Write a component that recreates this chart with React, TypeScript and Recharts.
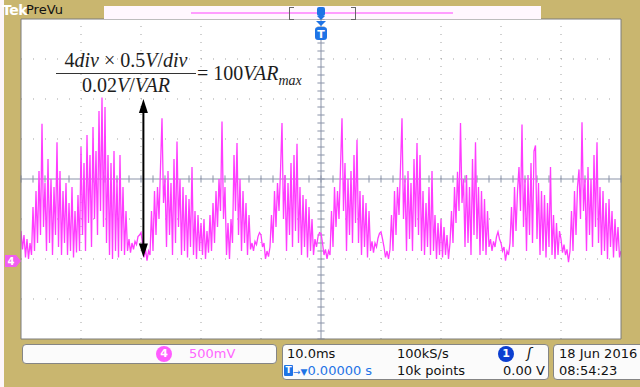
import { LineChart, Line, XAxis, YAxis, ReferenceLine, CartesianGrid } from "recharts";

// channel 4 trace, volts above ground marker, one sample every 0.25 ms
// one row per 10 ms division, read left to right off the screen
const div1 = [0.35, 0.12, 0.3, 0.02, 0.25, 0.0, 0.2, 0.05, 0.65, 0.1, 0.85, 0.2, 1.1, 0.3, 1.69, 0.4, 0.95, 0.1, 1.25, 0.2, 1.0, 0.05, 0.9, 0.3, 1.46, 0.15, 1.1, 0.05, 0.85, 0.2, 0.95, 0.05, 0.7, 0.1, 0.9, 0.02, 0.6, 0.08, 0.8, 0.1];
const div2 = [1.4, 0.3, 1.2, 0.1, 1.55, 0.45, 1.3, 0.15, 1.65, 0.5, 1.35, 0.3, 1.85, 0.6, 2.02, 0.4, 1.9, 0.2, 1.3, 0.05, 1.2, 0.0, 1.35, 0.1, 1.0, 0.02, 1.3, 0.1, 0.9, 0.05, 0.6, 0.1, 0.25, 0.08, 0.2, 0.12, 0.22, 0.18, 0.28, 0.3];
const div3 = [0.33, 0.2, 0.02, 0.12, -0.02, 0.1, 0.05, 0.6, 0.1, 0.85, 0.3, 0.9, 0.5, 1.15, 1.76, 0.7, 1.0, 0.15, 1.1, 0.3, 0.95, 0.05, 1.25, 0.2, 1.47, 0.4, 1.0, 0.05, 0.9, 0.1, 0.8, 0.02, 0.75, 0.15, 1.15, 0.05, 0.6, 0.0, 0.55, 0.1];
const div4 = [0.45, 0.05, 0.5, 0.0, 0.35, 0.08, 0.55, 0.1, 0.7, 0.2, 0.85, 0.4, 1.0, 0.6, 1.72, 0.5, 0.9, 0.05, 0.45, 0.0, 0.5, 0.2, 1.3, 0.6, 1.45, 0.3, 1.0, 0.1, 0.85, 0.2, 0.7, 0.05, 0.55, 0.12, 0.2, 0.1, 0.22, 0.18, 0.28, 0.33];
const div5 = [0.3, 0.15, 0.2, 0.0, 0.1, 0.03, 0.15, 0.55, 0.2, 0.85, 0.4, 0.95, 0.6, 1.1, 1.7, 0.5, 1.05, 0.1, 0.95, 0.3, 1.2, 0.15, 1.3, 0.35, 1.44, 0.2, 0.9, 0.05, 0.8, 0.15, 0.75, 0.02, 0.65, 0.1, 0.5, 0.05, 0.25, 0.15, 0.28, 0.33];
const div6 = [0.32, 0.2, 0.05, 0.12, 0.0, 0.1, 0.05, 0.6, 0.15, 0.9, 0.4, 0.85, 0.5, 1.15, 1.76, 0.6, 1.2, 0.1, 1.0, 0.3, 1.1, 0.2, 1.3, 0.45, 1.49, 0.2, 0.85, 0.05, 0.8, 0.15, 0.7, 0.02, 0.6, 0.1, 0.22, 0.08, 0.2, 0.15, 0.26, 0.32];
const div7 = [0.34, 0.25, 0.15, 0.02, 0.1, 0.0, 0.12, 0.55, 0.1, 0.85, 0.3, 0.9, 0.55, 1.15, 1.76, 0.5, 1.0, 0.1, 1.1, 0.25, 0.95, 0.1, 1.25, 0.4, 1.45, 0.3, 1.3, 0.1, 0.85, 0.05, 0.7, 0.15, 0.9, 0.05, 1.1, 0.1, 0.55, 0.0, 0.45, 0.05];
const div8 = [0.5, 0.02, 0.4, 0.05, 0.3, 0.0, 0.2, 0.6, 0.2, 0.9, 0.45, 1.09, 0.6, 1.7, 0.7, 1.0, 0.15, 1.05, 0.2, 0.9, 0.05, 1.25, 0.3, 1.46, 0.25, 0.9, 0.05, 0.85, 0.1, 0.75, 0.05, 0.6, 0.15, 0.25, 0.1, 0.22, 0.15, 0.28, 0.34, 0.25];
const div9 = [0.2, 0.1, 0.15, -0.02, 0.1, 0.05, 0.2, 0.65, 0.15, 0.9, 0.35, 0.85, 1.15, 0.6, 1.68, 0.4, 1.0, 0.1, 1.05, 0.3, 1.2, 0.2, 1.35, 1.42, 0.25, 0.95, 0.05, 0.85, 0.1, 0.8, 0.02, 0.7, 0.15, 1.15, 0.05, 0.55, 0.0, 0.45, 0.05, 0.35];
const div10 = [0.25, 0.08, 0.18, 0.05, 0.12, -0.04, 0.1, 0.6, 0.1, 0.85, 0.3, 0.9, 1.12, 0.5, 1.71, 0.6, 1.0, 0.1, 1.15, 0.3, 1.0, 0.15, 1.3, 0.4, 1.46, 0.2, 0.9, 0.05, 0.85, 0.1, 0.7, 0.0, 0.75, 0.15, 0.6, 0.02, 0.5, 0.1, 0.4, 0.02, 0.1];

const trace = [...div1, ...div2, ...div3, ...div4, ...div5, ...div6, ...div7, ...div8, ...div9, ...div10];
const sampleStep = 0.25; // ms
const data = trace.map((v, i) => ({ t: -50 + i * sampleStep, v }));

// graticule: 10 x 10 ms, 8 x 0.5 V, ground two divisions below centre
const timeMajor = [-40, -30, -20, -10, 10, 20, 30, 40];
const voltMajor = [-0.5, 0, 0.5, 1.5, 2, 2.5];
const timeMinor = Array.from({ length: 51 }, (_, i) => -50 + i * 2);
const voltMinor = Array.from({ length: 41 }, (_, i) => Math.round((-1 + i * 0.1) * 10) / 10);

// the 4 div marker drawn on the screen shot
const arrowAt = -29.6;
const arrowFrom = 0.02;
const arrowTo = 2.0;

const TAN = "#c9b66f";
const PINK = "#ff3cff";
const LIGHT_PINK = "#ff9dff";
const BLUE = "#1f74e6";
const DOTS = "#a3a3a3";
const CENTER = "#8a93a8";
const SANS = '"DejaVu Sans", sans-serif';

const Arrow = (p: any) => {
  const top = Math.min(p.y1, p.y2);
  const bot = Math.max(p.y1, p.y2);
  const x = p.x1;
  return (
    <g>
      <line x1={x} y1={top + 8} x2={x} y2={bot - 8} stroke="#000" strokeWidth={2} />
      <polygon points={`${x},${top} ${x - 4.5},${top + 14} ${x + 4.5},${top + 14}`} fill="#000" />
      <polygon points={`${x},${bot} ${x - 4.5},${bot - 14} ${x + 4.5},${bot - 14}`} fill="#000" />
    </g>
  );
};

const abs = (left: number, top: number, extra: any = {}) => ({
  position: "absolute" as const,
  left,
  top,
  ...extra,
});

const box = { background: "#fbfbfb", border: "1px solid #858585", borderRadius: 4, boxSizing: "border-box" as const };

export default function App() {
  return (
    <div style={{ position: "absolute", left: 0, top: 0, width: 640, height: 387, background: TAN, overflow: "hidden", fontFamily: SANS }}>
      <div style={abs(0, 0, { width: 4, height: 387, background: "#fdf6fb" })} />
      <div style={abs(0, 0)}>
        <LineChart width={640} height={387} data={data} margin={{ top: 19, right: 19, bottom: 48, left: 21 }}>
          <CartesianGrid xAxisId="b" yAxisId="l" horizontal={false} vertical={false} fill="#ffffff" stroke="none" />
          <XAxis xAxisId="b" dataKey="t" type="number" domain={[-50, 50]} ticks={timeMinor} interval={0} orientation="bottom" mirror tick={false} tickSize={3} tickLine={{ stroke: DOTS }} axisLine={{ stroke: "#7d7d7d" }} allowDataOverflow />
          <XAxis xAxisId="t" dataKey="t" type="number" domain={[-50, 50]} ticks={timeMinor} interval={0} orientation="top" mirror tick={false} tickSize={3} tickLine={{ stroke: DOTS }} axisLine={{ stroke: "#7d7d7d" }} allowDataOverflow />
          <YAxis yAxisId="l" type="number" domain={[-1, 3]} ticks={voltMinor} interval={0} orientation="left" mirror tick={false} tickSize={3} tickLine={{ stroke: DOTS }} axisLine={{ stroke: "#7d7d7d" }} allowDataOverflow />
          <YAxis yAxisId="r" type="number" domain={[-1, 3]} ticks={voltMinor} interval={0} orientation="right" mirror tick={false} tickSize={3} tickLine={{ stroke: DOTS }} axisLine={{ stroke: "#7d7d7d" }} allowDataOverflow />

          {timeMajor.map((t) => (
            <ReferenceLine key={"gx" + t} xAxisId="b" yAxisId="l" x={t} stroke={DOTS} strokeDasharray="1 7" />
          ))}
          {voltMajor.map((v) => (
            <ReferenceLine key={"gy" + v} xAxisId="b" yAxisId="l" y={v} stroke={DOTS} strokeDasharray="1 11" />
          ))}
          <ReferenceLine xAxisId="b" yAxisId="l" x={0} stroke={CENTER} />
          <ReferenceLine xAxisId="b" yAxisId="l" y={1} stroke={CENTER} />
          {timeMinor.map((t) => (
            <ReferenceLine key={"cx" + t} xAxisId="b" yAxisId="l" segment={[{ x: t, y: 0.955 }, { x: t, y: 1.045 }]} stroke={CENTER} />
          ))}
          {voltMinor.map((v) => (
            <ReferenceLine key={"cy" + v} xAxisId="b" yAxisId="l" segment={[{ x: -0.6, y: v }, { x: 0.6, y: v }]} stroke={CENTER} />
          ))}

          <Line xAxisId="b" yAxisId="l" dataKey="v" type="linear" stroke={PINK} strokeWidth={1.3} dot={false} isAnimationActive={false} />

          <ReferenceLine
            xAxisId="b"
            yAxisId="l"
            segment={[{ x: arrowAt, y: arrowFrom }, { x: arrowAt, y: arrowTo }]}
            stroke="#000"
            shape={Arrow}
          />
        </LineChart>
      </div>

      {/* header */}
      <div style={abs(2, 0, { color: "#fff", fontWeight: "bold", fontSize: 14, letterSpacing: -0.5, lineHeight: "20px" })}>Tek</div>
      <div style={abs(26, 0, { color: "#111", fontSize: 13, lineHeight: "20px" })}>PreVu</div>
      <div style={abs(104, 6, { width: 437, height: 13, background: "#fff7fe" })} />
      <div style={abs(191, 12, { width: 262, height: 1.5, background: LIGHT_PINK })} />
      <div style={abs(289, 7, { width: 4, height: 11, borderLeft: "1.5px solid #666", borderTop: "1px solid #666", borderBottom: "1px solid #666" })} />
      <div style={abs(351, 7, { width: 4, height: 11, borderRight: "1.5px solid #666", borderTop: "1px solid #666", borderBottom: "1px solid #666" })} />
      <svg style={abs(314, 5)} width={14} height={36}>
        <rect x={3} y={2} width={8} height={9} rx={2} fill={BLUE} />
        <polygon points="3,11 11,11 7,15" fill={BLUE} />
        <polygon points="2,16 12,16 7,21" fill={BLUE} />
        <rect x={1} y={22} width={12} height={13} rx={3} fill={BLUE} />
        <text x={7} y={32.5} textAnchor="middle" fill="#fff" fontSize={11} fontWeight="bold" fontFamily="DejaVu Sans">T</text>
      </svg>

      {/* ground marker, channel 4 */}
      <svg style={abs(4, 254)} width={18} height={14}>
        <polygon points="1,1 12,1 17,7 12,13 1,13" fill="#f25cf2" />
        <text x={7} y={11} textAnchor="middle" fill="#fff" fontSize={10} fontWeight="bold" fontFamily="DejaVu Sans">4</text>
      </svg>

      {/* annotation */}
      <div style={abs(56, 49, { width: 140, textAlign: "center", fontFamily: '"Liberation Serif", serif', fontSize: 20, color: "#1d1d1d" })}>
        <div style={{ lineHeight: "23px" }}>
          4<i>div</i> × 0.5<i>V</i>/<i>div</i>
        </div>
        <div style={{ borderTop: "1.6px solid #333", lineHeight: "23px", marginTop: 1 }}>
          0.02<i>V</i>/<i>VAR</i>
        </div>
      </div>
      <div style={abs(197, 62, { fontFamily: '"Liberation Serif", serif', fontSize: 20, color: "#1d1d1d", lineHeight: "23px", whiteSpace: "nowrap" })}>
        = 100<i>VAR</i>
        <sub style={{ fontSize: 14 }}>
          <i>max</i>
        </sub>
      </div>

      {/* status bar */}
      <div style={abs(22, 344, { ...box, width: 255, height: 20 })} />
      <div style={abs(156, 346, { width: 16, height: 16, borderRadius: 8, background: "#ff5cff", color: "#fff", fontSize: 11, fontWeight: "bold", textAlign: "center", lineHeight: "16px" })}>4</div>
      <div style={abs(189, 346, { color: "#ff66ff", fontSize: 13, lineHeight: "16px" })}>500mV</div>

      <div style={abs(282, 344, { ...box, width: 267, height: 36 })} />
      <div style={abs(287, 346, { color: "#111", fontSize: 13, lineHeight: "16px" })}>10.0ms</div>
      <div style={abs(397, 346, { color: "#111", fontSize: 13, lineHeight: "16px" })}>100kS/s</div>
      <div style={abs(498, 346, { width: 16, height: 16, borderRadius: 8, background: "#0c3fd0", color: "#fff", fontSize: 11, fontWeight: "bold", textAlign: "center", lineHeight: "16px" })}>1</div>
      <div style={abs(527, 345, { color: "#111", fontSize: 14, fontStyle: "italic", lineHeight: "16px" })}>ʃ</div>
      <div style={abs(284, 365, { width: 9, height: 11, background: BLUE, color: "#fff", fontSize: 9, fontWeight: "bold", textAlign: "center", lineHeight: "11px", borderRadius: 1 })}>T</div>
      <div style={abs(293, 363, { color: BLUE, fontSize: 13, lineHeight: "16px", whiteSpace: "nowrap" })}>
        <span style={{ fontSize: 9 }}>→▼</span>0.00000 s
      </div>
      <div style={abs(397, 363, { color: "#111", fontSize: 13, lineHeight: "16px" })}>10k points</div>
      <div style={abs(465, 363, { width: 80, textAlign: "right", color: "#111", fontSize: 13, lineHeight: "16px" })}>0.00 V</div>

      <div style={abs(553, 344, { ...box, width: 100, height: 36 })} />
      <div style={abs(559, 346, { color: "#111", fontSize: 13, lineHeight: "16px", whiteSpace: "nowrap" })}>18 Jun 2016</div>
      <div style={abs(559, 363, { color: "#111", fontSize: 13, lineHeight: "16px" })}>08:54:23</div>
    </div>
  );
}
